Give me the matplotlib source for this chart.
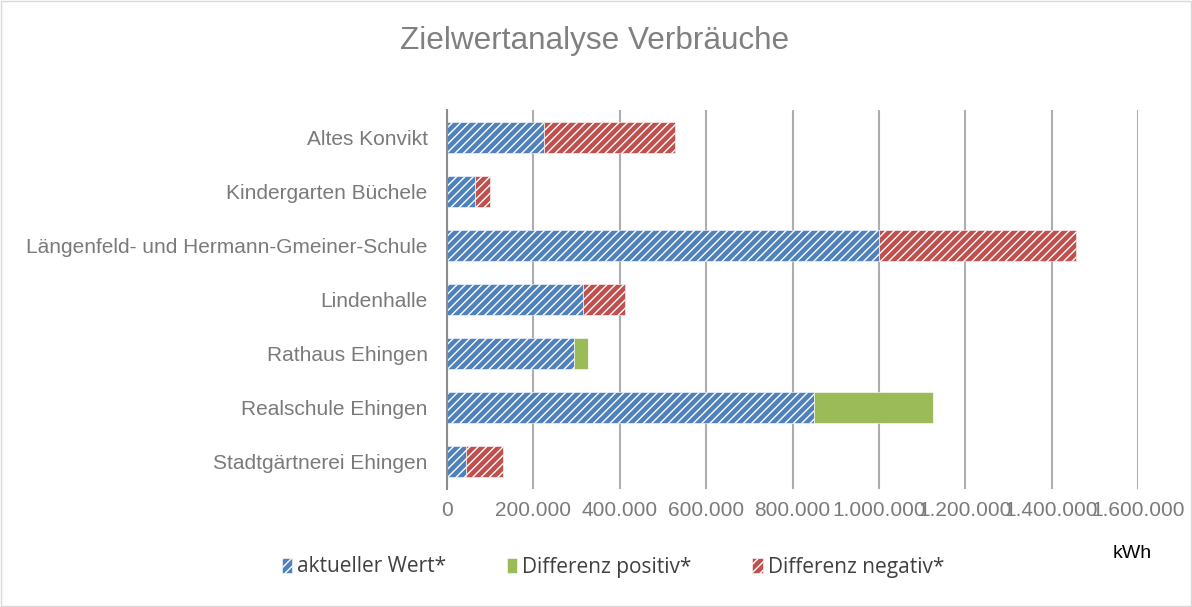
import matplotlib.pyplot as plt
import matplotlib.patches as mpatches
from matplotlib.ticker import FuncFormatter, MultipleLocator

gebaeude = ['Altes Konvikt', 'Kindergarten Büchele',
            'Längenfeld- und Hermann-Gmeiner-Schule', 'Lindenhalle',
            'Rathaus Ehingen', 'Realschule Ehingen', 'Stadtgärtnerei Ehingen']
aktueller_wert = [225000, 64000, 1000000, 316000, 294000, 850000, 44000]
differenz_positiv = [0, 0, 0, 0, 33000, 275000, 0]
differenz_negativ = [304000, 35000, 456000, 97000, 0, 0, 85000]

blau = '#4F81BD'
gruen = '#9BBB59'
rot = '#C0504D'
grau = '#7a7a7a'

plt.rcParams['font.family'] = ['Liberation Sans', 'DejaVu Sans']
plt.rcParams['hatch.linewidth'] = 1.0

fig = plt.figure(figsize=(11.92, 6.07), dpi=100)
ax = fig.add_axes([447 / 1192, 1 - 489 / 607, (1138 - 447) / 1192, (489 - 110) / 607])

y = list(range(len(gebaeude)))
h = 0.57
ax.barh(y, aktueller_wert, height=h, color=blau, edgecolor='white',
        hatch='////', linewidth=0.4, zorder=3)
ax.barh(y, differenz_positiv, left=aktueller_wert, height=h, color=gruen,
        edgecolor='white', linewidth=0.4, zorder=3)
links_neg = [a + p for a, p in zip(aktueller_wert, differenz_positiv)]
ax.barh(y, differenz_negativ, left=links_neg, height=h, color=rot,
        edgecolor='white', hatch='////', linewidth=0.4, zorder=3)

ax.set_ylim(len(gebaeude) - 0.5, -0.5)
ax.set_yticks(y)
ax.set_yticklabels(gebaeude)
ax.set_xlim(0, 1600000)
ax.xaxis.set_major_locator(MultipleLocator(200000))
ax.xaxis.set_major_formatter(FuncFormatter(lambda v, p: f'{int(v):,}'.replace(',', '.')))

ax.grid(axis='x', color='#ADADAD', linewidth=1.5, zorder=0)
for s in ['top', 'right', 'bottom']:
    ax.spines[s].set_visible(False)
ax.spines['left'].set_color('#8C8C8C')
ax.spines['left'].set_linewidth(1.5)
ax.spines['left'].set_zorder(4)
ax.tick_params(axis='both', length=0, colors=grau, labelsize=15)
ax.tick_params(axis='y', pad=14)
ax.tick_params(axis='x', pad=9)

fig.text(0.499, 1 - 41 / 607, 'Zielwertanalyse Verbräuche', ha='center',
         va='center', fontsize=22.7, color='#808080')
fig.text(1132 / 1192, 1 - 553 / 607, 'kWh', ha='center', va='center',
         fontsize=14, color='black')

handles = [
    mpatches.Patch(facecolor=blau, edgecolor='white', hatch='////', linewidth=0.4,
                   label='aktueller Wert*'),
    mpatches.Patch(facecolor=gruen, edgecolor='white', linewidth=0.4,
                   label='Differenz positiv*'),
    mpatches.Patch(facecolor=rot, edgecolor='white', hatch='////', linewidth=0.4,
                   label='Differenz negativ*'),
]
fig.legend(handles=handles, loc='center', bbox_to_anchor=(613 / 1192, 1 - 567 / 607),
           ncol=3, frameon=False, handlelength=0.5, handleheight=0.7,
           handletextpad=0.25, columnspacing=2.9,
           prop={'family': 'Open Sans', 'size': 15}, labelcolor='#404040')

fig.patches.append(mpatches.Rectangle((0.001, 0.001), 0.998, 0.997,
                                      transform=fig.transFigure, fill=False,
                                      edgecolor='#D9D9D9', linewidth=1))

plt.savefig('out.png', dpi=100)
